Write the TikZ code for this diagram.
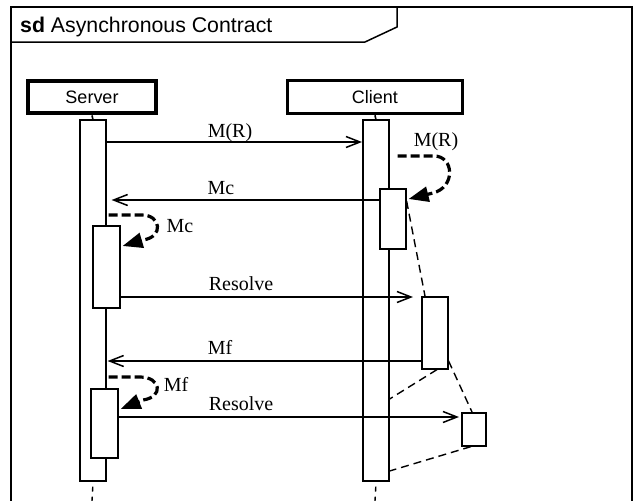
\documentclass[tikz,border=0pt]{standalone}
\usepackage{fontspec}
\setmainfont{Liberation Serif}
\setsansfont{Liberation Sans}
\usetikzlibrary{arrows.meta}

\begin{document}
\begin{tikzpicture}[x=1pt,y=-1pt,
  frameline/.style={line width=1.5pt},
  bar/.style={draw, fill=white, line width=1.6pt, inner sep=0pt, anchor=north west},
  head/.style={draw, fill=white, inner sep=0pt, font=\sffamily\fontsize{18}{18}\selectfont},
  msg/.style={line width=1.5pt, -{Straight Barb[length=14pt,width=11pt]}},
  selfmsg/.style={line width=3.2pt, dash pattern=on 9pt off 4pt, -{Triangle[length=20pt,width=15pt]}},
  link/.style={line width=1.4pt, dash pattern=on 8pt off 5pt},
  lifeend/.style={line width=1.4pt, dash pattern=on 5pt off 5pt},
  lbl/.style={font=\fontsize{20}{20}\selectfont, inner sep=0pt, anchor=base},
]
\useasboundingbox (0,0) rectangle (633,501);

% diagram frame with its name tag
\draw[frameline] (11,501) -- (11,7) -- (632,7) -- (632,501);
\draw[frameline] (11,42) -- (365,42) -- (397,27) -- (397,7);
\node[anchor=base west, inner sep=0pt, font=\sffamily\fontsize{21.3}{21}\selectfont] (title) at (20,32)
  {\textbf{sd} Asynchronous Contract};

% lifeline heads
\node[head, line width=4.8pt, minimum width=128pt, minimum height=32pt] (server) at (92,97) {Server};
\node[head, line width=3.6pt, minimum width=175pt, minimum height=33pt] (client) at (375,97) {Client};

% main activation bars
\node[bar, minimum width=26pt, minimum height=361pt] (sbar) at (79,119) {};
\node[bar, minimum width=26pt, minimum height=361pt] (cbar) at (362,119) {};
\draw[line width=1.6pt] (server.south) -- (sbar.north);
\draw[line width=1.6pt] (client.south) -- (cbar.north);

% nested and follow-up activations
\node[bar, minimum width=27pt, minimum height=82pt] (sact1) at (92,225) {};
\node[bar, minimum width=27pt, minimum height=69pt] (sact2) at (90,388) {};
\node[bar, minimum width=26pt, minimum height=60pt] (cact1) at (379,188) {};
\node[bar, minimum width=26pt, minimum height=72pt] (cact2) at (421,296) {};
\node[bar, minimum width=24pt, minimum height=33pt] (cact3) at (461,412) {};

% lifeline continuation
\coordinate (send) at (92,501);
\coordinate (cend) at (375,501);
\draw[lifeend] ([yshift=-5pt]sbar.south) -- (send);
\draw[lifeend] ([yshift=-5pt]cbar.south) -- (cend);

% links between client activations
\draw[link] ([yshift=-13pt]cact1.north east) -- ([xshift=4pt]cact2.north west);
\draw[link] ([xshift=16pt]cact2.south west) -- ([yshift=-280pt]cbar.north east);
\draw[link] ([yshift=-65pt]cact2.north east) -- ([xshift=11pt]cact3.north west);
\draw[link] ([xshift=10pt]cact3.south west) -- ([yshift=-352pt]cbar.north east);

% asynchronous messages
\draw[msg] ([yshift=-23pt]sbar.north east) -- ([yshift=-23pt]cbar.north west);
\node[lbl] (lmr) at (230,137) {M(R)};
\draw[msg] ([yshift=-12pt]cact1.north west) -- ([xshift=5pt,yshift=-81pt]sbar.north east);
\node[lbl] (lmc) at (221,194) {Mc};
\draw[msg] ([yshift=-72pt]sact1.north east) -- ([xshift=-8pt,yshift=-1pt]cact2.north west);
\node[lbl] (lres1) at (241,290) {Resolve};
\draw[msg] ([yshift=-65pt]cact2.north west) -- ([xshift=1pt,yshift=-242pt]sbar.north east);
\node[lbl] (lmf) at (220,354) {Mf};
\draw[msg] ([yshift=-29pt]sact2.north east) -- ([xshift=-2pt,yshift=-5pt]cact3.north west);
\node[lbl] (lres2) at (241,410) {Resolve};

% self calls
\draw[selfmsg] ([xshift=8pt,yshift=-37pt]cbar.north east) -- (434,156)
  .. controls (454,156) and (456,187) .. (433,193) -- ([xshift=2pt,yshift=-11pt]cact1.north east);
\node[lbl] (lmr2) at (436,146) {M(R)};
\draw[selfmsg] ([xshift=2pt,yshift=-96pt]sbar.north east) -- (142,215)
  .. controls (161,215) and (164,237) .. (143,240) -- ([xshift=2pt,yshift=-21pt]sact1.north east);
\node[lbl] (lmc2) at (180,232) {Mc};
\draw[selfmsg] ([xshift=2pt,yshift=-258pt]sbar.north east) -- (140,377)
  .. controls (161,377) and (164,397) .. (143,400) -- ([xshift=2pt,yshift=-21pt]sact2.north east);
\node[lbl] (lmf2) at (176,391) {Mf};
\end{tikzpicture}
\end{document}
